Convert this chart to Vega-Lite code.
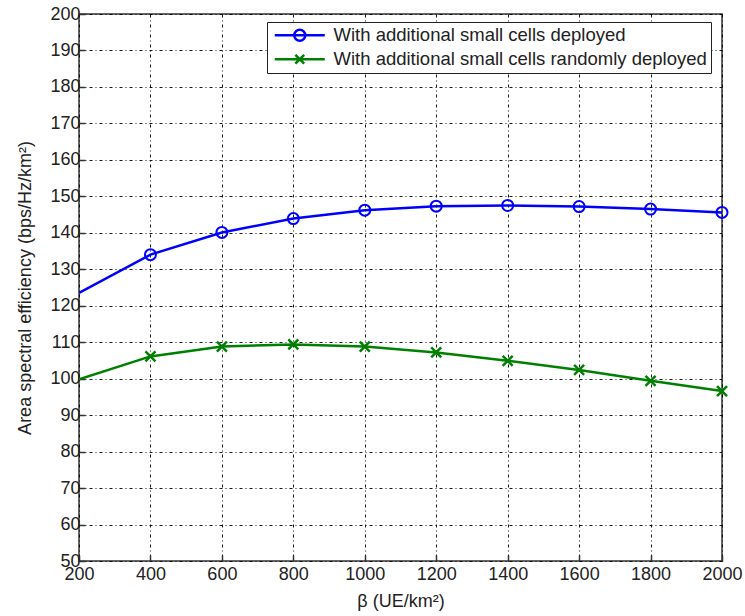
{
  "$schema": "https://vega.github.io/schema/vega-lite/v6.json",
  "width": 643,
  "height": 547,
  "autosize": {"type": "none"},
  "padding": {"left": 79, "top": 14, "right": 23, "bottom": 55},
  "background": "white",
  "config": {
    "font": "Liberation Sans",
    "view": {"stroke": "#333333", "strokeWidth": 1.5},
    "axis": {
      "labelFont": "Liberation Sans",
      "titleFont": "Liberation Sans",
      "labelFontSize": 18,
      "titleFontSize": 18,
      "labelColor": "#222222",
      "titleColor": "#222222",
      "titleFontWeight": "normal",
      "domain": false,
      "tickColor": "#333333",
      "tickWidth": 1.5,
      "tickSize": -6,
      "grid": true,
      "gridColor": "#000000",
      "gridDash": [3, 3, 1, 3],
      "gridWidth": 1,
      "gridOpacity": 0.9
    }
  },
  "data": {
    "values": [
      {"beta": 200, "ase": 123.5, "series": "With additional small cells deployed"},
      {"beta": 400, "ase": 134.0, "series": "With additional small cells deployed"},
      {"beta": 600, "ase": 140.1, "series": "With additional small cells deployed"},
      {"beta": 800, "ase": 143.9, "series": "With additional small cells deployed"},
      {"beta": 1000, "ase": 146.2, "series": "With additional small cells deployed"},
      {"beta": 1200, "ase": 147.3, "series": "With additional small cells deployed"},
      {"beta": 1400, "ase": 147.5, "series": "With additional small cells deployed"},
      {"beta": 1600, "ase": 147.2, "series": "With additional small cells deployed"},
      {"beta": 1800, "ase": 146.5, "series": "With additional small cells deployed"},
      {"beta": 2000, "ase": 145.6, "series": "With additional small cells deployed"},
      {"beta": 200, "ase": 99.8, "series": "With additional small cells randomly deployed"},
      {"beta": 400, "ase": 106.1, "series": "With additional small cells randomly deployed"},
      {"beta": 600, "ase": 108.8, "series": "With additional small cells randomly deployed"},
      {"beta": 800, "ase": 109.4, "series": "With additional small cells randomly deployed"},
      {"beta": 1000, "ase": 108.8, "series": "With additional small cells randomly deployed"},
      {"beta": 1200, "ase": 107.2, "series": "With additional small cells randomly deployed"},
      {"beta": 1400, "ase": 104.9, "series": "With additional small cells randomly deployed"},
      {"beta": 1600, "ase": 102.4, "series": "With additional small cells randomly deployed"},
      {"beta": 1800, "ase": 99.4, "series": "With additional small cells randomly deployed"},
      {"beta": 2000, "ase": 96.6, "series": "With additional small cells randomly deployed"}
    ]
  },
  "encoding": {
    "x": {
      "field": "beta", "type": "quantitative",
      "scale": {"domain": [200, 2000], "nice": false},
      "axis": {"values": [200, 400, 600, 800, 1000, 1200, 1400, 1600, 1800, 2000], "format": "d", "title": "β (UE/km²)", "labelPadding": 10, "titlePadding": 9, "labelFlush": false}
    },
    "y": {
      "field": "ase", "type": "quantitative",
      "scale": {"domain": [50, 200], "nice": false, "zero": false},
      "axis": {"values": [50, 60, 70, 80, 90, 100, 110, 120, 130, 140, 150, 160, 170, 180, 190, 200], "title": "Area spectral efficiency (bps/Hz/km²)", "labelPadding": 5, "titlePadding": 15, "labelFlush": false}
    },
    "color": {
      "field": "series", "type": "nominal",
      "scale": {"domain": ["With additional small cells deployed", "With additional small cells randomly deployed"], "range": ["#0000ff", "#008000"]}
    }
  },
  "layer": [
    {
      "mark": {"type": "line", "strokeWidth": 2.5, "clip": true}
    },
    {
      "transform": [{"filter": "datum.beta >= 400 && datum.series == 'With additional small cells deployed'"}],
      "mark": {"type": "point", "shape": "circle", "filled": false, "size": 121, "strokeWidth": 2, "opacity": 1}
    },
    {
      "transform": [{"filter": "datum.beta >= 400 && datum.series == 'With additional small cells randomly deployed'"}],
      "mark": {"type": "point", "shape": "M-1,-1L1,1M-1,1L1,-1", "filled": false, "size": 100, "strokeWidth": 2.5, "opacity": 1}
    },
    {
      "mark": {"type": "point", "filled": false, "opacity": 0, "size": 121},
      "encoding": {
        "shape": {
          "field": "series", "type": "nominal",
          "scale": {
            "domain": ["With additional small cells deployed", "With additional small cells randomly deployed"],
            "range": ["M-1,0L8.1,0M2.55,0A1,1 0 1,1 4.55,0A1,1 0 1,1 2.55,0", "M-1,0L8.1,0M2.75,-0.8L4.35,0.8M2.75,0.8L4.35,-0.8"]
          },
          "legend": {
            "title": null,
            "orient": "none",
            "legendX": 188,
            "legendY": 8,
            "padding": 4,
            "strokeColor": "#222222",
            "fillColor": "white",
            "labelFontSize": 18.5,
            "labelColor": "#222222",
            "labelLimit": 0,
            "labelOffset": 44,
            "rowPadding": 3,
            "symbolOpacity": 1,
            "symbolStrokeWidth": 2.5,
            "symbolSize": 121,
            "symbolFillColor": "transparent"
          }
        }
      }
    }
  ]
}
